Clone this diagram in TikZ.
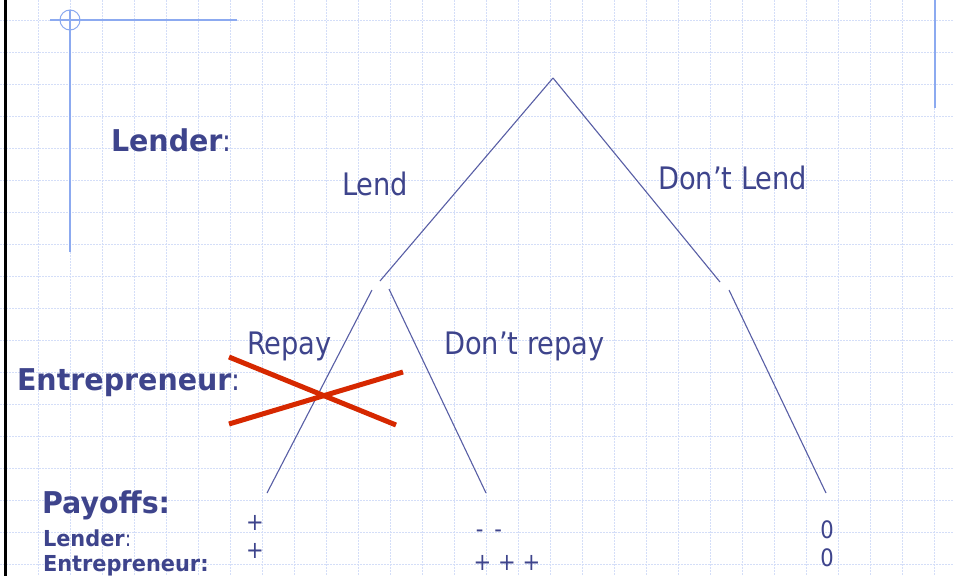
\documentclass[tikz,border=0pt]{standalone}
\usepackage{fontspec}
\setmainfont{DejaVu Sans}[FakeStretch=0.88]
\newfontfamily\heavyfont{DejaVu Sans}[FakeStretch=0.95]
\newcommand\setfs[1]{\fontsize{#1}{#1}\selectfont}
\definecolor{ink}{RGB}{62,68,140}
\definecolor{branch}{RGB}{88,94,165}
\definecolor{gridblue}{RGB}{212,222,248}
\definecolor{frameblue}{RGB}{140,170,240}
\definecolor{crossred}{RGB}{214,40,0}
\tikzset{
  gridline/.style={gridblue, line width=0.9pt, dash pattern=on 1.5pt off 1.5pt},
  frameline/.style={frameblue, line width=1.5pt},
  branchline/.style={branch, line width=1.1pt},
  crossline/.style={crossred, line width=5pt},
  txt/.style={ink, anchor=base west, inner sep=0pt, outer sep=0pt},
  plain/.style={txt, font=\setfs{31}},
  head/.style={txt, font=\heavyfont\bfseries\setfs{30}},
  small/.style={txt, font=\heavyfont\bfseries\setfs{22}},
  pay/.style={ink, anchor=center, inner sep=0pt, font=\setfs{24}}
}
\begin{document}
\begin{tikzpicture}[x=1pt,y=-1pt]
\useasboundingbox (0,0) rectangle (954,576);
\fill[white] (0,0) rectangle (954,576);

% dotted background grid, 32pt cells
\foreach \i in {0,...,29} \draw[gridline] ({6+32*\i},0) -- ({6+32*\i},576);
\foreach \j in {0,...,17} \draw[gridline] (0,{20+32*\j}) -- (954,{20+32*\j});

% slide frame ornaments
\draw[black, line width=3pt] (5.5,0) -- (5.5,576);
\draw[frameline] (50,20) -- (237,20);
\draw[frameline] (70,10) -- (70,252);
\draw[frameblue, line width=1pt] (70,20) circle (10);
\draw[frameline] (935,0) -- (935,108);

% game tree end points
\coordinate (root) at (553,78);
\coordinate (lendEnd) at (380,281);
\coordinate (dlEnd) at (720,282);
\coordinate (repayTop) at (372,290);
\coordinate (repayBot) at (267,493);
\coordinate (norepTop) at (389,289);
\coordinate (norepBot) at (486,493);
\coordinate (dlTop) at (729,290);
\coordinate (dlBot) at (826,493);

\draw[branchline] (root) -- (lendEnd);
\draw[branchline] (root) -- (dlEnd);
\draw[branchline] (repayTop) -- (repayBot);
\draw[branchline] (norepTop) -- (norepBot);
\draw[branchline] (dlTop) -- (dlBot);

% player and move labels
\node[head] (lender) at (111,151) {Lender\normalfont:};
\node[plain] (lend) at (342,195) {Lend};
\node[plain] (dontlend) at (658,189) {Don’t Lend};
\node[plain] (repay) at (247,354) {Repay};
\node[plain] (dontrepay) at (444,354) {Don’t repay};
\node[head] (entre) at (17,390) {Entrepreneur\normalfont:};

% crossed-out move
\coordinate (xa) at (229,357);
\coordinate (xb) at (396,425);
\coordinate (xc) at (229,424);
\coordinate (xd) at (403,372);
\draw[crossline] (xa) -- (xb);
\draw[crossline] (xc) -- (xd);

% payoffs
\node[txt, font=\heavyfont\bfseries\setfs{30}] (payoffs) at (42,513) {Payoffs:};
\node[small] (plender) at (43,546) {Lender\normalfont:};
\node[small] (pentre) at (43,571) {Entrepreneur:};
\node[pay] (p1a) at (255,523) {+};
\node[pay] (p1b) at (255,551) {+};
\node[pay] (p2a) at (489,534) {-\hspace{0.45em}-};
\node[pay] (p2b) at (507,563) {+ + +};
\node[pay] (p3a) at (827,530) {0};
\node[pay] (p3b) at (827,558) {0};
\end{tikzpicture}
\end{document}
